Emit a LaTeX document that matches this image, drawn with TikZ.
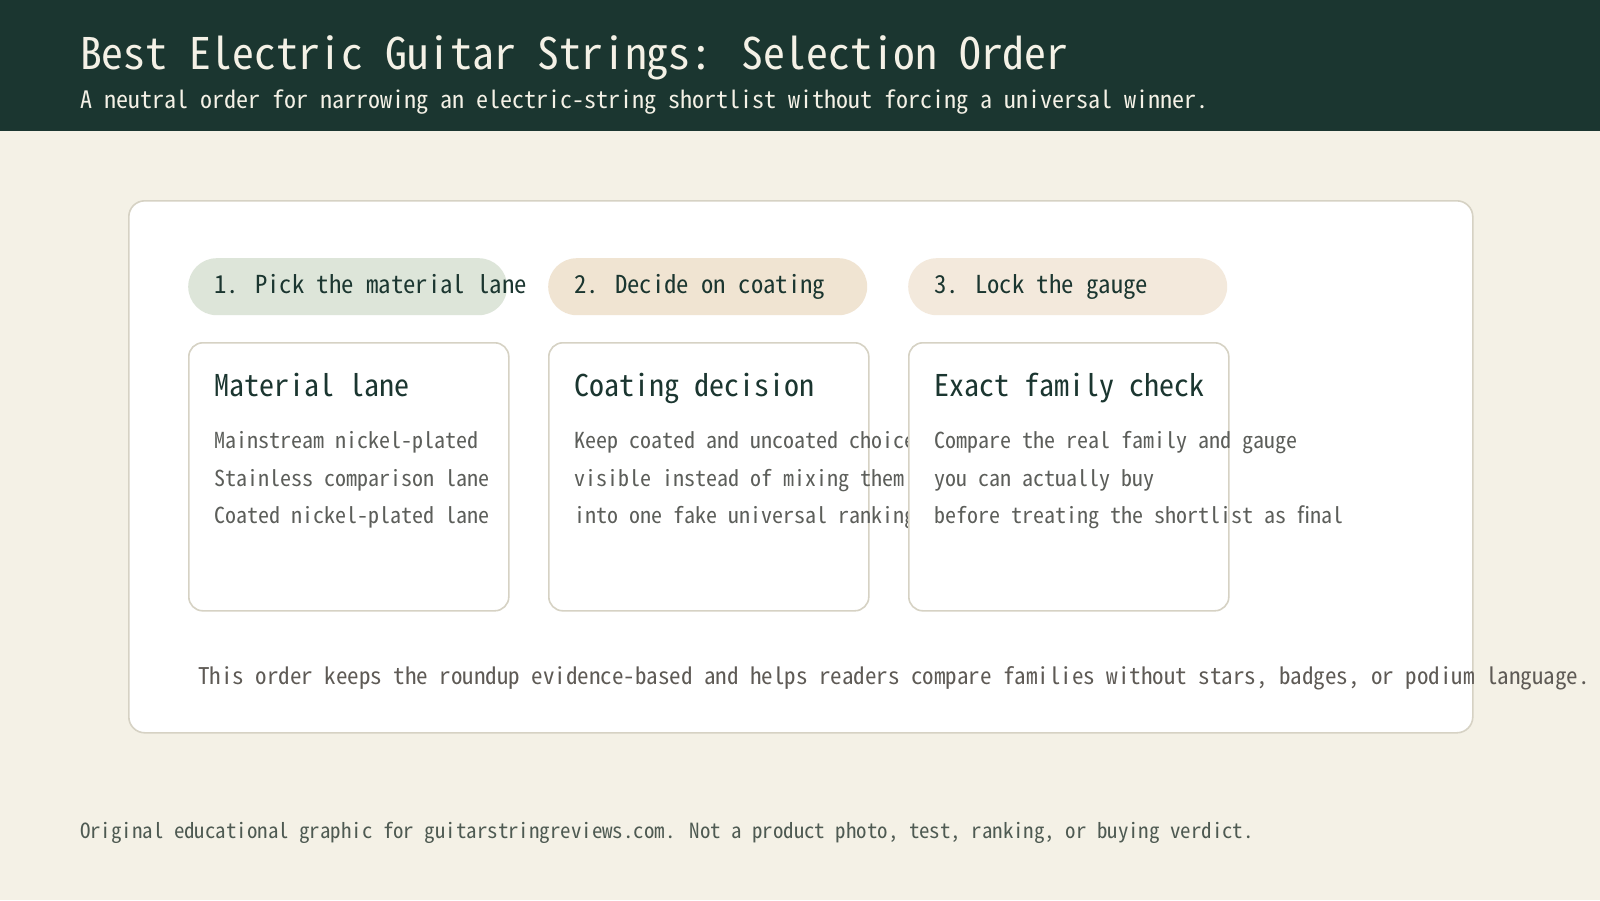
\documentclass[tikz,border=0pt]{standalone}
\usepackage{fontspec}
\setmainfont{Noto Sans CJK JP}[RawFeature=+hwid]
\definecolor{hdr}{RGB}{27,54,48}
\definecolor{bg}{RGB}{244,241,230}
\definecolor{cream}{RGB}{244,241,230}
\definecolor{bord}{RGB}{214,210,196}
\definecolor{pillA}{RGB}{221,229,217}
\definecolor{pillB}{RGB}{240,228,210}
\definecolor{pillC}{RGB}{243,233,220}
\definecolor{bodytxt}{RGB}{92,94,90}
\definecolor{foottxt}{RGB}{94,90,85}
\definecolor{credtxt}{RGB}{78,90,82}
\tikzset{
  txt/.style={anchor=base west, inner sep=0pt, outer sep=0pt},
  pillbox/.style={anchor=north west, draw=none, rounded corners=28.5pt, minimum width=319pt, minimum height=57pt, inner sep=0pt},
  cardbox/.style={anchor=north west, draw=bord, line width=1.6pt, fill=white, rounded corners=14pt, minimum width=320pt, minimum height=268pt, inner sep=0pt},
  pilltxt/.style={txt, text=hdr, font=\fontsize{24.7}{30}\selectfont},
  cardtitle/.style={txt, text=hdr, font=\fontsize{30}{36}\selectfont},
  bodyline/.style={txt, text=bodytxt, font=\fontsize{22}{26}\selectfont},
}
\begin{document}
\begin{tikzpicture}[x=1pt,y=-1pt]
\useasboundingbox (0,0) rectangle (1600,900);
\fill[bg] (0,0) rectangle (1600,900);
\fill[hdr] (0,0) rectangle (1600,131);
\node[txt, text=cream, font=\fontsize{43.6}{52}\selectfont] (title) at (80,69) {Best Electric Guitar Strings: Selection Order};
\node[txt, text=cream, font=\fontsize{24}{28}\selectfont] (subtitle) at (80,108) {A neutral order for narrowing an electric-string shortlist without forcing a universal winner.};
% panel
\node[anchor=north west, draw=bord, line width=1.6pt, fill=white, rounded corners=16pt, minimum width=1344pt, minimum height=532pt, inner sep=0pt] (panel) at (128,200) {};
% pills
\node[pillbox, fill=pillA] (p1) at (188,258) {};
\node[pillbox, fill=pillB] (p2) at (548,258) {};
\node[pillbox, fill=pillC] (p3) at (908,258) {};
\node[pilltxt] (p1t) at (214,293) {1. Pick the material lane};
\node[pilltxt] (p2t) at (574,293) {2. Decide on coating};
\node[pilltxt] (p3t) at (934,293) {3. Lock the gauge};
% card 1
\node[cardbox] (c1) at (188,342) {};
\node[cardtitle] (c1t) at (214,396) {Material lane};
\node[bodyline] (c1a) at (214,448) {Mainstream nickel-plated};
\node[bodyline] (c1b) at (214,486) {Stainless comparison lane};
\node[bodyline] (c1c) at (214,523) {Coated nickel-plated lane};
% card 2
\node[cardbox] (c2) at (548,342) {};
\node[cardtitle] (c2t) at (574,396) {Coating decision};
\node[bodyline] (c2a) at (574,448) {Keep coated and uncoated choices};
\node[bodyline] (c2b) at (574,486) {visible instead of mixing them};
\node[bodyline] (c2c) at (574,523) {into one fake universal ranking};
% card 3
\node[cardbox] (c3) at (908,342) {};
\node[cardtitle] (c3t) at (934,396) {Exact family check};
\node[bodyline] (c3a) at (934,448) {Compare the real family and gauge};
\node[bodyline] (c3b) at (934,486) {you can actually buy};
\node[bodyline] (c3c) at (934,523) {before treating the shortlist as final};
% panel footer
\node[txt, text=foottxt, font=\fontsize{23}{28}\selectfont] (pfoot) at (198,684) {This order keeps the roundup evidence-based and helps readers compare families without stars, badges, or podium language.};
% credit
\node[txt, text=credtxt, font=\fontsize{20.9}{26}\selectfont] (credit) at (80,838) {Original educational graphic for guitarstringreviews.com. Not a product photo, test, ranking, or buying verdict.};
\end{tikzpicture}
\end{document}
